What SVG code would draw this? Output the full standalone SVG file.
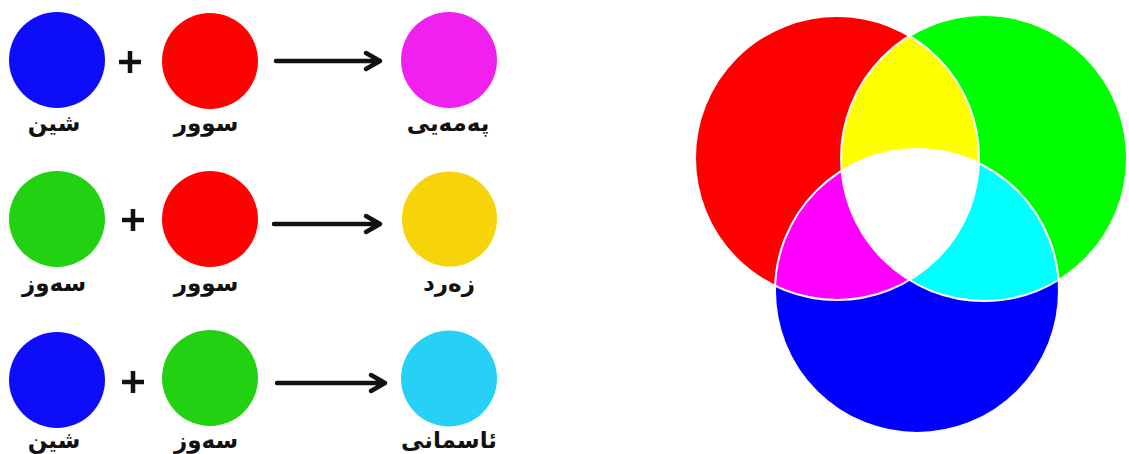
<svg xmlns="http://www.w3.org/2000/svg" width="1129" height="454" viewBox="0 0 1129 454">
<style>
.lbl{font-family:"DejaVu Sans","Noto Sans",sans-serif;font-weight:bold;font-size:23px;fill:#111;text-anchor:middle;direction:rtl}
.plus{stroke:#111;stroke-width:4.5;fill:none}
.arr{stroke:#111;stroke-width:4.5;fill:none;stroke-linecap:round;stroke-linejoin:round}
.edge{fill:none;stroke:#fff;stroke-width:2}
</style>
<defs>
<clipPath id="cR"><circle cx="837" cy="158" r="142"/></clipPath>
<clipPath id="cG"><circle cx="984" cy="158" r="143"/></clipPath>
<clipPath id="cB"><circle cx="917" cy="291" r="142"/></clipPath>
</defs>
<g id="row1">
<g id="n-blue1"><circle cx="57" cy="60" r="48" fill="#0d0dfa"/><text class="lbl" x="54" y="131">شین</text></g>
<g id="n-red1"><circle cx="210" cy="61" r="48" fill="#fe0202"/><text class="lbl" x="206" y="131">سوور</text></g>
<g id="n-mag"><circle cx="449" cy="60" r="48" fill="#f020ee"/><text class="lbl" x="448" y="131">پەمەیی</text></g>
</g>
<g id="row2">
<g id="n-green2"><circle cx="57" cy="219" r="48" fill="#22d212"/><text class="lbl" x="54" y="291">سەوز</text></g>
<g id="n-red2"><circle cx="210" cy="219" r="48" fill="#fe0202"/><text class="lbl" x="206" y="291">سوور</text></g>
<g id="n-yel"><circle cx="449.5" cy="219" r="47.5" fill="#f7d30a"/><text class="lbl" x="449" y="291">زەرد</text></g>
</g>
<g id="row3">
<g id="n-blue3"><circle cx="57" cy="380" r="48" fill="#0d0dfa"/><text class="lbl" x="54" y="448">شین</text></g>
<g id="n-green3"><circle cx="210" cy="378" r="48" fill="#22d212"/><text class="lbl" x="206" y="448">سەوز</text></g>
<g id="n-cyan"><circle cx="449" cy="378.5" r="48" fill="#27d0f5"/><text class="lbl" x="449" y="448">ئاسمانی</text></g>
</g>
<g id="connectors">
<path class="plus" d="M119 62h22M130 51v22"/>
<path class="plus" d="M122 220h22M133 209v22"/>
<path class="plus" d="M122 382h22M133 371v22"/>
<path class="arr" d="M276 61H380M366 53L380 61L366 69"/>
<path class="arr" d="M274 224H380M366 216L380 224L366 232"/>
<path class="arr" d="M277 383H385M371 375L385 383L371 391"/>
</g>
<g id="venn">
<circle cx="837" cy="158" r="142" fill="#ff0000"/>
<circle cx="984" cy="158" r="143" fill="#00ff00"/>
<circle cx="917" cy="291" r="142" fill="#0000ff"/>
<circle cx="984" cy="158" r="143" fill="#ffff00" clip-path="url(#cR)"/>
<circle cx="917" cy="291" r="142" fill="#ff00ff" clip-path="url(#cR)"/>
<circle cx="917" cy="291" r="142" fill="#00ffff" clip-path="url(#cG)"/>
<g clip-path="url(#cR)"><circle cx="917" cy="291" r="142" fill="#ffffff" clip-path="url(#cG)"/></g>
<circle class="edge" cx="837" cy="158" r="142"/>
<circle class="edge" cx="984" cy="158" r="143"/>
<circle class="edge" cx="917" cy="291" r="142"/>
</g>
</svg>
